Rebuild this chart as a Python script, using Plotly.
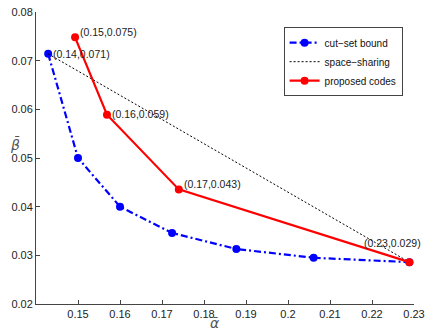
import plotly.graph_objects as go

# cut-set bound
cut_alpha = [0.1429, 0.1500, 0.1600, 0.1724, 0.1877, 0.2061, 0.2289]
cut_beta = [0.0714, 0.0500, 0.0400, 0.0346, 0.0313, 0.0295, 0.0286]

# space-sharing line between the two corner points
share_alpha = [0.1429, 0.2289]
share_beta = [0.0714, 0.0286]

# proposed codes
code_alpha = [0.1493, 0.1569, 0.1740, 0.2289]
code_beta = [0.0748, 0.0589, 0.04355, 0.0286]

# point labels
label_x = [0.1429, 0.1493, 0.1569, 0.1740, 0.2176]
label_y = [0.0713, 0.0758, 0.0591, 0.0447, 0.0326]
label_text = ["(0.14,0.071)", "(0.15,0.075)", "(0.16,0.059)", "(0.17,0.043)", "(0.23,0.029)"]

x_ticks = [0.15, 0.16, 0.17, 0.18, 0.19, 0.2, 0.21, 0.22, 0.23]
x_tick_text = ["0.15", "0.16", "0.17", "0.18", "0.19", "0.2", "0.21", "0.22", "0.23"]
y_ticks = [0.02, 0.03, 0.04, 0.05, 0.06, 0.07, 0.08]
y_tick_text = ["0.02", "0.03", "0.04", "0.05", "0.06", "0.07", "0.08"]

FONT = "Liberation Sans, Arial, sans-serif"

fig = go.Figure()
fig.add_trace(go.Scatter(
    x=cut_alpha, y=cut_beta, mode="lines+markers", name="cut\u2212set bound",
    line=dict(color="#0000ff", width=2.2, dash="7px,3px,2px,3px"),
    marker=dict(color="#0000ff", size=8),
))
fig.add_trace(go.Scatter(
    x=share_alpha, y=share_beta, mode="lines", name="space\u2212sharing",
    line=dict(color="#000000", width=1, dash="2px,2px"),
))
fig.add_trace(go.Scatter(
    x=code_alpha, y=code_beta, mode="lines+markers", name="proposed codes",
    line=dict(color="#ff0000", width=2.2),
    marker=dict(color="#ff0000", size=8),
))

for lx, ly, lt in zip(label_x, label_y, label_text):
    fig.add_annotation(
        x=lx, y=ly, text=lt, showarrow=False, xanchor="left", yanchor="middle",
        xshift=3 if lt != "(0.23,0.029)" else 0,
        font=dict(size=10.5, color="#222222", family=FONT),
    )

# axis labels
fig.add_annotation(xref="paper", yref="paper", x=0.473, y=-0.0993, text="<i>\u03b1\u0304</i>",
                   showarrow=False, yanchor="bottom",
                   font=dict(size=14, color="#555555", family="DejaVu Sans"))
fig.add_annotation(xref="paper", yref="paper", x=-0.074, y=0.545, text="<i>\u03b2\u0304</i>",
                   showarrow=False, xanchor="left",
                   font=dict(size=14, color="#555555", family="DejaVu Sans"))

axis_style = dict(
    showgrid=False, zeroline=False, showline=True, linecolor="#444444", linewidth=1,
    ticks="inside", ticklen=4, tickcolor="#444444", mirror=False, automargin=False,
    ticklabeloverflow="allow",
    tickfont=dict(size=11, color="#222222", family=FONT),
)
fig.update_xaxes(range=[0.14, 0.23], tickvals=x_ticks, ticktext=x_tick_text, **axis_style)
fig.update_yaxes(range=[0.02, 0.08], tickvals=y_ticks, ticktext=y_tick_text, **axis_style)

# the page body adds an 8px margin, so the figure is 8px smaller and the margins shifted
fig.update_layout(
    width=428, height=325,
    margin=dict(l=28, r=22, t=4, b=29),
    plot_bgcolor="white", paper_bgcolor="white",
    font=dict(family=FONT, size=11, color="#222222"),
    legend=dict(
        x=0.655, y=0.948, xanchor="left", yanchor="top",
        bordercolor="#444444", borderwidth=1, bgcolor="white",
        font=dict(size=10, family=FONT, color="#111111"),
        tracegroupgap=0, itemwidth=30,
    ),
)

fig.write_html("out.html")
